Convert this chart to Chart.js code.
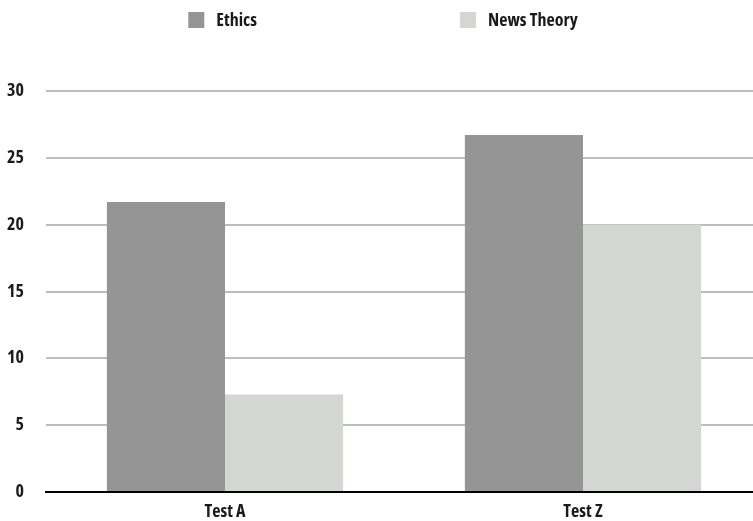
<!DOCTYPE html>
<html>
<head>
<meta charset="utf-8">
<script src="https://cdn.jsdelivr.net/npm/chart.js@4/dist/chart.umd.min.js"></script>
<style>
  html, body { margin: 0; padding: 0; background: #fff; overflow: hidden; }
  #wrap { width: 770px; height: 521px; position: relative; }
</style>
</head>
<body>
<div id="wrap"><canvas id="c"></canvas></div>
<script>
const categories = ['Test A', 'Test Z'];
const seriesNames = ['Ethics', 'News Theory'];
const ethics = [21.7, 26.7];
const newsTheory = [7.3, 20.0];
const yTicks = [0, 5, 10, 15, 20, 25, 30];
const colors = ['#959595', '#d3d6d3'];

const FONT = "'Open Sans', 'Roboto Condensed', sans-serif";
const WEIGHT = 'bold condensed';

const customLegend = {
  id: 'customLegend',
  afterDraw(chart) {
    const ctx = chart.ctx;
    ctx.save();
    ctx.font = WEIGHT + ' 18px ' + FONT;
    ctx.textBaseline = 'middle';
    const box = 16, gapText = 12, gapItems = 203;
    const items = chart.data.datasets.map(ds => ({ text: ds.label, color: ds.backgroundColor, w: box + gapText + ctx.measureText(ds.label).width }));
    const total = items.reduce((s, it) => s + it.w, 0) + gapItems * (items.length - 1);
    let x = 383 - total / 2;
    const y = 20;
    items.forEach(it => {
      ctx.fillStyle = it.color;
      ctx.fillRect(x, y - box / 2, box, box);
      ctx.fillStyle = '#1a1a1a';
      ctx.textAlign = 'left';
      ctx.fillText(it.text, x + box + gapText, y + 1);
      x += it.w + gapItems;
    });
    ctx.restore();
  }
};

new Chart(document.getElementById('c'), {
  type: 'bar',
  data: {
    labels: categories,
    datasets: [
      { label: seriesNames[0], data: ethics, backgroundColor: colors[0], borderWidth: 0 },
      { label: seriesNames[1], data: newsTheory, backgroundColor: colors[1], borderWidth: 0 }
    ]
  },
  options: {
    responsive: true,
    maintainAspectRatio: false,
    animation: false,
    layout: { padding: { left: 0, right: 8, top: 91, bottom: 0 } },
    datasets: { bar: { categoryPercentage: 0.66, barPercentage: 1.0 } },
    plugins: {
      legend: { display: false },
      tooltip: { enabled: false }
    },
    scales: {
      x: {
        afterFit(scale) { scale.height = 29; },
        grid: { display: false, drawTicks: false },
        border: { display: true, color: '#000', width: 2 },
        ticks: { color: '#1a1a1a', padding: 9, font: { family: FONT, size: 18, weight: WEIGHT } }
      },
      y: {
        min: 0, max: 30,
        afterFit(scale) { scale.width = 46; scale.paddingTop = 0; scale.paddingBottom = 0; },
        afterBuildTicks(scale) { scale.ticks = yTicks.map(v => ({ value: v })); },
        grid: {
          drawTicks: false,
          lineWidth: 2,
          color: c => (c.tick && c.tick.value === 0) ? '#000' : '#bdbdbd'
        },
        border: { display: false },
        ticks: { color: '#1a1a1a', padding: 22, font: { family: FONT, size: 18, weight: WEIGHT } }
      }
    }
  },
  plugins: [customLegend]
});
</script>
</body>
</html>
